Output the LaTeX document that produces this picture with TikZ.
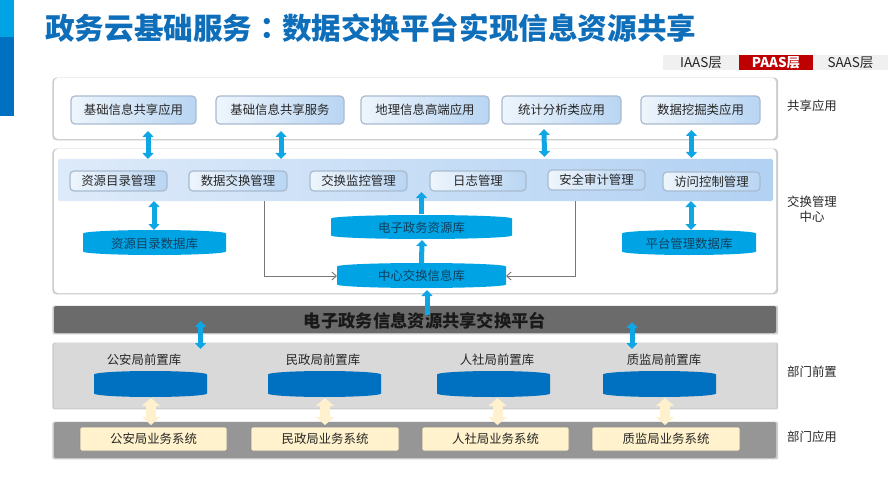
\documentclass[tikz,border=0pt]{standalone}
\usepackage{fontspec}
\setmainfont{Noto Sans CJK SC}
\newfontfamily\tcfont{Noto Sans CJK TC}
\usetikzlibrary{arrows.meta}
\definecolor{cyanb}{HTML}{00A4E4}
\definecolor{darkb}{HTML}{0070C0}
\definecolor{titleb}{HTML}{0F6EB9}
\definecolor{arrb}{HTML}{0FA6E6}
\definecolor{creamb}{HTML}{FFF2CC}
\definecolor{creama}{HTML}{FFF0CE}
\definecolor{txt}{HTML}{262626}
\definecolor{dbtxt}{HTML}{12405F}
\definecolor{bdr}{HTML}{A8BBD0}
\definecolor{shd}{HTML}{CDCDCD}
\definecolor{linec}{HTML}{777777}
\definecolor{gl}{HTML}{EEF5FC}
\definecolor{gr}{HTML}{B8D5F3}
\definecolor{bl}{HTML}{DDEAF9}
\definecolor{br}{HTML}{B2D1F3}
\newcommand{\fs}{\fontsize{12.4}{15}\selectfont}
\tikzset{
  base/.style={inner sep=0pt,outer sep=0pt,font=\fs,text=txt,align=center},
  panel/.style={base,fill=white,rounded corners=4pt},
  gradbox/.style={base,draw=bdr,line width=1.2pt,rounded corners=4pt,left color=gl,right color=gr},
  bandbox/.style={base,rounded corners=1.5pt,left color=bl,right color=br},
  graypanel/.style={base,fill=#1,rounded corners=1.5pt},
  creambox/.style={base,fill=creamb,draw=black!45,line width=.6pt,rounded corners=2pt},
  tab/.style={base,fill=black!6,font=\fontsize{13.5}{15}\selectfont},
  lab/.style={base},
  dbnode/.style={base,text=dbtxt},
  dbl/.style={draw=arrb,line width=5pt,{Triangle[width=11pt,length=6pt]}-{Triangle[width=11pt,length=6pt]}},
  sgl/.style={draw=arrb,line width=5pt,-{Triangle[width=11pt,length=6pt]}},
  creamarr/.style={draw=creama,line width=10pt,{Triangle[width=18pt,length=8pt]}-{Triangle[width=18pt,length=8pt]}},
  feed/.style={draw=linec,line width=.9pt,-{Straight Barb[length=4.5pt,width=8pt]}},
}
% name x1 y1 x2 y2 style text
\newcommand{\bx}[7]{\node[#6,minimum width={(#4)-(#2)},minimum height={(#5)-(#3)}] (#1) at ({((#2)+(#4))/2},{((#3)+(#5))/2}) {#7};}
\newcommand{\shad}[5]{\fill[shd,rounded corners=#5] ({#1-1.6},{#2-.4}) rectangle ({#3+2.2},{#4+1.4});}
\newcommand{\cyl}[5]{%
  \fill[#5] (#1,{#2+3.5})
    .. controls (#1,{#2+1.6}) and ({(#1+#3)/2-.275*(#3-#1)},#2) .. ({(#1+#3)/2},#2)
    .. controls ({(#1+#3)/2+.275*(#3-#1)},#2) and (#3,{#2+1.6}) .. (#3,{#2+3.5})
    -- (#3,{#4-3.5})
    .. controls (#3,{#4-1.6}) and ({(#1+#3)/2+.275*(#3-#1)},#4) .. ({(#1+#3)/2},#4)
    .. controls ({(#1+#3)/2-.275*(#3-#1)},#4) and (#1,{#4-1.6}) .. (#1,{#4-3.5}) -- cycle;}
\begin{document}
\begin{tikzpicture}[x=1pt,y=-1pt]
\useasboundingbox (0,0) rectangle (889,500);
% side bar
\fill[cyanb] (0,0) rectangle (14,37);
\fill[darkb] (0,37) rectangle (14,116);
% title
\node[inner sep=0pt,anchor=west,text=titleb,font=\fontsize{29.6}{34}\selectfont\bfseries] (title) at (45,28.5) {政务云基础服务{\tcfont ：}数据交换平台实现信息资源共享};
% layer tabs
\bx{ia}{663}{55}{739}{70}{tab}{IAAS层}
\bx{sa}{813}{55}{888}{70}{tab}{SAAS层}
\bx{pa}{739}{55}{813}{70}{base,fill=red!75!black,text=white,font=\fontsize{13.5}{15}\selectfont\bfseries}{PAAS层}
% panels
\shad{54}{78}{776}{139}{4pt}
\bx{p1}{54}{78}{776}{139}{panel}{}
\shad{54}{149}{776}{293}{4pt}
\bx{p2}{54}{149}{776}{293}{panel}{}
\bx{band}{58}{159}{773}{201}{bandbox}{}
\shad{54}{306}{776}{333}{1.5pt}
\bx{plat}{54}{306}{776}{333}{graypanel=black!58}{}
\node[inner sep=0pt,font=\fontsize{17.3}{20}\selectfont\bfseries,text=black!90] (platt) at (425,320.5) {电子政务信息资源共享交换平台};
\shad{54}{343}{776}{408}{1.5pt}
\bx{p3}{54}{343}{776}{408}{graypanel=black!15}{}
\shad{54}{422}{776}{458}{1.5pt}
\bx{p4}{54}{422}{776}{458}{graypanel=black!41}{}
% top row
\bx{t1}{71}{96}{196}{124}{gradbox}{基础信息共享应用}
\bx{t2}{216}{96}{344}{124}{gradbox}{基础信息共享服务}
\bx{t3}{361}{96}{489}{124}{gradbox}{地理信息高端应用}
\bx{t4}{502}{96}{621}{124}{gradbox}{统计分析类应用}
\bx{t5}{641}{96}{760}{124}{gradbox}{数据挖掘类应用}
% middle row
\bx{m1}{70}{171}{167}{191}{gradbox}{资源目录管理}
\bx{m2}{189}{171}{287}{191}{gradbox}{数据交换管理}
\bx{m3}{310}{171}{407}{191}{gradbox}{交换监控管理}
\bx{m4}{430}{171}{526}{191}{gradbox}{日志管理}
\bx{m5}{548}{170}{645}{190}{gradbox}{安全审计管理}
\bx{m6}{663}{172}{760}{191}{gradbox}{访问控制管理}
% databases
\cyl{83}{230}{226}{255}{cyanb}
\bx{d1}{83}{231}{226}{256}{dbnode}{资源目录数据库}
\cyl{331}{215}{512}{239}{cyanb}
\bx{d2}{331}{215}{512}{240}{dbnode}{电子政务资源库}
\cyl{622}{230}{756}{255}{cyanb}
\bx{d3}{622}{231}{756}{256}{dbnode}{平台管理数据库}
\cyl{337}{263}{506}{288}{cyanb}
\bx{d4}{337}{264}{506}{288}{dbnode}{中心交换信息库}
% departmental front stores
\bx{l1}{107}{352}{181}{367}{lab}{公安局前置库}
\bx{l2}{286}{352}{360}{367}{lab}{民政局前置库}
\bx{l3}{460}{352}{534}{367}{lab}{人社局前置库}
\bx{l4}{627}{352}{701}{367}{lab}{质监局前置库}
\cyl{94}{371}{207}{397}{darkb}
\bx{f1}{94}{371}{207}{397}{base}{}
\cyl{268}{371}{381}{397}{darkb}
\bx{f2}{268}{371}{381}{397}{base}{}
\cyl{437}{371}{550}{397}{darkb}
\bx{f3}{437}{371}{550}{397}{base}{}
\cyl{603}{371}{716}{397}{darkb}
\bx{f4}{603}{371}{716}{397}{base}{}
% business systems
\bx{b1}{80}{427}{227}{451}{creambox}{公安局业务系统}
\bx{b2}{251}{427}{399}{451}{creambox}{民政局业务系统}
\bx{b3}{422}{427}{569}{451}{creambox}{人社局业务系统}
\bx{b4}{592}{427}{740}{451}{creambox}{质监局业务系统}
% right labels
\node[base] (r1) at (812,106) {共享应用};
\node[base,text depth=0pt] (r2) at (812,208.5) {交换管理\\中心};
\node[base] (r3) at (812,372) {部门前置};
\node[base] (r4) at (812,437) {部门应用};
% gray feeders
\draw[feed] ([xshift=-151.5pt]band.south) |- (d4.west);
\draw[feed] ([xshift=159.5pt]band.south) |- (d4.east);
% blue arrows
\draw[dbl] ([xshift=14.5pt,yshift=-7pt]t1.south) -- ([xshift=29.5pt,yshift=12pt]m1.north);
\draw[dbl] ([xshift=1pt,yshift=-7pt]t2.south) -- ([xshift=43pt,yshift=12pt]m2.north);
\draw[dbl] ([xshift=-17.5pt,yshift=-5pt]t4.south) -- ([xshift=-52pt,yshift=13pt]m5.north);
\draw[dbl] ([xshift=-9pt,yshift=-6pt]t5.south) -- ([xshift=-20pt,yshift=14pt]m6.north);
\draw[dbl] ([xshift=35.5pt,yshift=-10pt]m1.south) -- ([xshift=-.5pt,yshift=1pt]d1.north);
\draw[dbl] ([xshift=-20.5pt,yshift=-10pt]m6.south) -- ([xshift=2pt,yshift=1pt]d3.north);
\draw[sgl] ([yshift=1pt]d2.north) -- ([xshift=6pt,yshift=9pt]band.south);
\draw[sgl] ([yshift=1pt]d4.north) -- ([xshift=.5pt,yshift=0pt]d2.south);
\draw[sgl] ([xshift=12pt,yshift=-9pt]plat.north) -- ([xshift=5.5pt,yshift=-2pt]d4.south);
\draw[dbl] ([xshift=-214.5pt,yshift=12pt]plat.south) -- ([xshift=56.5pt,yshift=3pt]l1.north);
\draw[dbl] ([xshift=217pt,yshift=11pt]plat.south) -- ([xshift=-32pt,yshift=3pt]l4.north);
% cream arrows
\draw[creamarr] ([xshift=.5pt,yshift=-1pt]f1.south) -- ([xshift=-2.5pt,yshift=2pt]b1.north);
\draw[creamarr] ([xshift=.5pt,yshift=-1pt]f2.south) -- ([xshift=0pt,yshift=2pt]b2.north);
\draw[creamarr] ([xshift=4pt,yshift=-1pt]f3.south) -- ([xshift=2pt,yshift=2pt]b3.north);
\draw[creamarr] ([xshift=5.5pt,yshift=-1pt]f4.south) -- ([xshift=-1pt,yshift=2pt]b4.north);
\end{tikzpicture}
\end{document}
